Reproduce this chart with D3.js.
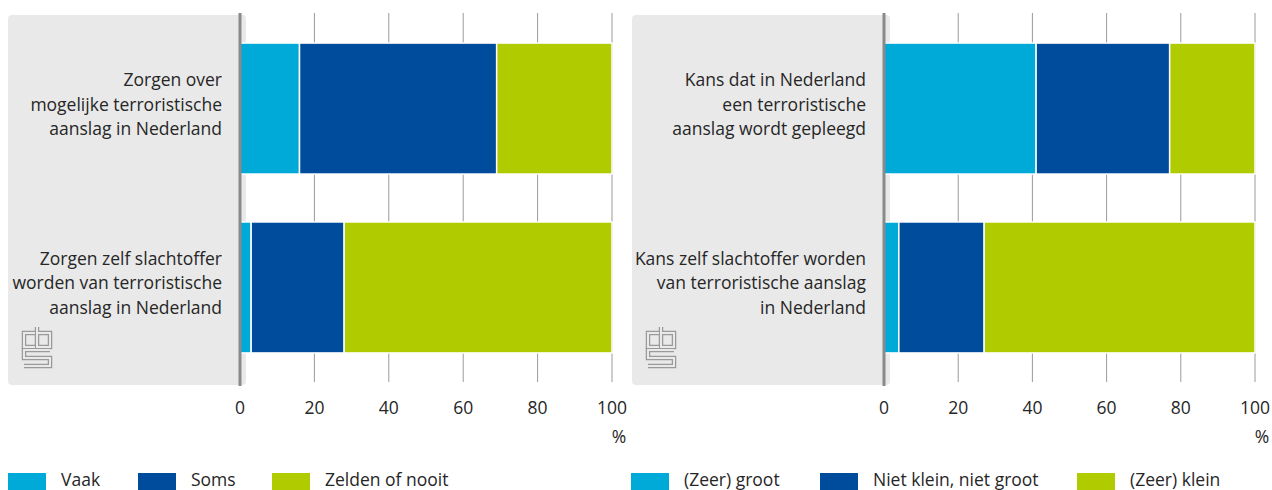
<!DOCTYPE html>
<html lang="nl">
<head>
<meta charset="UTF-8">
<title>Zorgen en kans terroristische aanslag</title>
<script src="https://d3js.org/d3.v7.min.js"></script>
<style>
  body { margin: 0; background: #fff; }
  svg { display: block; font-family: "Open Sans", sans-serif; }
  .lbl { font-size: 17.5px; fill: #262626; }
</style>
</head>
<body>
<div id="chart"></div>
<script>

// tick values for both x axes
const ticks = [0, 20, 40, 60, 80, 100];

// left panel
const leftLabels = [
  ["Zorgen over", "mogelijke terroristische", "aanslag in Nederland"],
  ["Zorgen zelf slachtoffer", "worden van terroristische", "aanslag in Nederland"]
];
const leftSeries = ["Vaak", "Soms", "Zelden of nooit"];
const leftVaak = [16, 3];
const leftSoms = [53, 25];
const leftZelden = [31, 72];

// right panel
const rightLabels = [
  ["Kans dat in Nederland", "een terroristische", "aanslag wordt gepleegd"],
  ["Kans zelf slachtoffer worden", "van terroristische aanslag", "in Nederland"]
];
const rightSeries = ["(Zeer) groot", "Niet klein, niet groot", "(Zeer) klein"];
const rightGroot = [41, 4];
const rightMidden = [36, 23];
const rightKlein = [23, 73];

const colors = ["#00aad8", "#004c9c", "#b0cb00"];

const width = 1272, height = 490;

const svg = d3.select("#chart")
  .append("svg")
    .attr("width", width)
    .attr("height", height);

// draws the cbs logo as a double outlined path
function drawLogo(g, x0, y0) {
  const lg = g.append("g").attr("transform", `translate(${x0},${y0})`);
  const paths = [
    "M11,6 L0,6 L0,20 L11,20",          // c
    "M13,0 L13,20 L26,20 L26,6 L13,6",  // b
    "M26,23 L0,23 L0,31 L26,31 L26,39 L0,39" // S
  ];
  paths.forEach(p => {
    lg.append("path").attr("d", p).attr("fill", "none")
      .attr("stroke", "#9a9a9a").attr("stroke-width", 4.5);
  });
  paths.forEach(p => {
    lg.append("path").attr("d", p).attr("fill", "none")
      .attr("stroke", "#e9e9e9").attr("stroke-width", 2);
  });
}

function drawPanel(opt) {
  const g = svg.append("g");

  const x = d3.scaleLinear().domain([0, 100]).range([opt.x0, opt.x1]);
  const y = d3.scaleBand().domain([0, 1]).range([13, 383])
    .paddingInner(0.268).paddingOuter(0.168);

  // gray label box
  g.append("rect")
    .attr("x", opt.boxX).attr("y", 15)
    .attr("width", opt.x0 - opt.boxX + 6).attr("height", 370)
    .attr("rx", 4)
    .attr("fill", "#e9e9e9");

  // grid lines
  g.selectAll(".grid")
    .data(ticks.slice(1))
    .join("line")
      .attr("x1", d => x(d)).attr("x2", d => x(d))
      .attr("y1", 13).attr("y2", 382)
      .attr("stroke", "#9a9a9a")
      .attr("stroke-width", 1);

  // stacked bars
  const rows = opt.labels.map((l, i) => {
    const r = { i: i };
    opt.series.forEach((s, k) => r[s] = opt.values[k][i]);
    return r;
  });
  const stacked = d3.stack().keys(opt.series)(rows);

  g.selectAll(".layer")
    .data(stacked)
    .join("g")
      .attr("fill", (d, k) => colors[k])
    .selectAll("rect")
    .data(d => d)
    .join("rect")
      .attr("x", d => x(d[0]))
      .attr("width", d => x(d[1]) - x(d[0]))
      .attr("y", d => y(d.data.i))
      .attr("height", y.bandwidth())
      .attr("stroke", "#fff")
      .attr("stroke-width", 1.5);

  // axis line
  g.append("line")
    .attr("x1", x(0)).attr("x2", x(0))
    .attr("y1", 13).attr("y2", 386)
    .attr("stroke", "#8a8a8a")
    .attr("stroke-width", 3);

  // category labels
  opt.labels.forEach((lines, i) => {
    const cy = y(i) + y.bandwidth() / 2 - 4;
    const t = g.append("text")
      .attr("class", "lbl")
      .attr("text-anchor", "end")
      .attr("x", opt.x0 - 18)
      .attr("y", cy - (lines.length - 1) / 2 * 24.5 + 6);
    lines.forEach((line, j) => {
      t.append("tspan")
        .attr("x", opt.x0 - 18)
        .attr("dy", j === 0 ? 0 : 24.5)
        .text(line);
    });
  });

  drawLogo(g, opt.boxX + 16, 327);

  // tick labels
  g.selectAll(".tick")
    .data(ticks)
    .join("text")
      .attr("class", "lbl")
      .attr("text-anchor", "middle")
      .attr("x", d => x(d))
      .attr("y", 414)
      .text(d => d);

  g.append("text")
    .attr("class", "lbl")
    .attr("text-anchor", "middle")
    .attr("x", x(100) + 7)
    .attr("y", 443)
    .text("%");

  // legend
  opt.series.forEach((s, k) => {
    g.append("rect")
      .attr("x", opt.legendX[k]).attr("y", 473)
      .attr("width", 38).attr("height", 17)
      .attr("fill", colors[k]);
    g.append("text")
      .attr("class", "lbl")
      .attr("x", opt.legendX[k] + 53)
      .attr("y", 485.5)
      .text(s);
  });
}

drawPanel({
  boxX: 8, x0: 240, x1: 612,
  labels: leftLabels,
  series: leftSeries,
  values: [leftVaak, leftSoms, leftZelden],
  legendX: [8, 138, 272]
});

drawPanel({
  boxX: 632, x0: 884, x1: 1255,
  labels: rightLabels,
  series: rightSeries,
  values: [rightGroot, rightMidden, rightKlein],
  legendX: [631, 820, 1077]
});

</script>
</body>
</html>
